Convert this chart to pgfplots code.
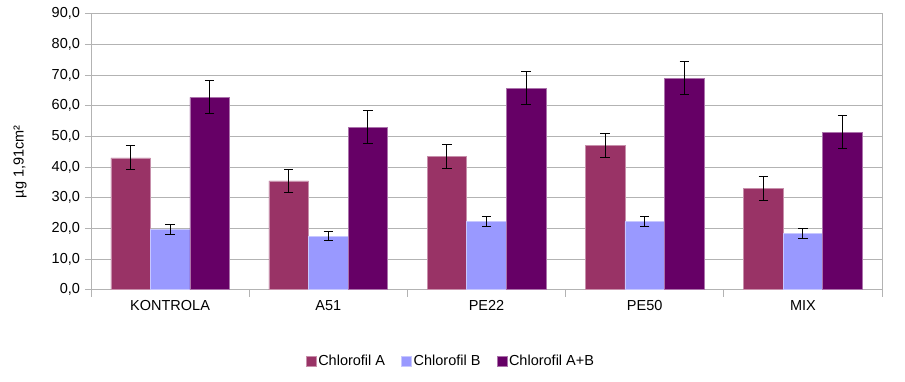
\documentclass[border=0pt]{standalone}
\usepackage{fontspec}
\setmainfont{Liberation Sans}
\usepackage{pgfplots}
\pgfplotsset{compat=1.18}
\definecolor{cA}{HTML}{993366}
\definecolor{cB}{HTML}{9999FF}
\definecolor{cAB}{HTML}{660066}
\definecolor{gridgray}{HTML}{B3B3B3}
\begin{document}
\fontsize{14.5}{17}\selectfont
\begin{tikzpicture}
\useasboundingbox (-91pt,-92.3pt) rectangle (814pt,289.7pt);
\begin{axis}[
  scale only axis, width=791pt, height=276pt,
  xmin=-0.5, xmax=4.5, ymin=0, ymax=90,
  ybar=0pt, bar width=0.25,
  xtick={0,1,2,3,4}, xticklabels={KONTROLA,A51,PE22,PE50,MIX},
  major x tick style={draw=none},
  minor xtick={-0.5,0.5,1.5,2.5,3.5,4.5},
  minor tick length=7pt,
  major tick length=6pt,
  ytick={0,10,...,90},
  ymajorgrids, grid style={gridgray, line width=0.8pt},
  axis line style={gridgray, line width=0.8pt},
  tick style={gridgray, line width=0.8pt},
  tick align=outside, tick pos=left,
  /pgf/number format/assume math mode=true,
  yticklabel style={/pgf/number format/.cd, fixed, fixed zerofill, precision=1, use comma},
  ylabel={µg 1,91cm²},
  ylabel style={at={(axis description cs:-0.0898,0.463)}, anchor=center},
  error bars/error bar style={black, line width=1pt},
  error bars/error mark options={rotate=90, black, mark size=4.7pt, line width=1pt},
  legend style={at={(axis description cs:0.455,-0.258)}, anchor=center, draw=none,
    legend columns=3, /tikz/every even column/.append style={column sep=14pt},
    /tikz/every odd column/.append style={column sep=0pt}},
  legend image code/.code={\fill[#1] (0pt,-5pt) rectangle (10pt,5pt);},
]
\addplot[fill=cA, draw=cA!55!white, line width=0.5pt,
  error bars/.cd, y dir=both, y explicit] coordinates {
  (0,43.0) +- (0,3.9)
  (1,35.5) +- (0,3.85)
  (2,43.5) +- (0,3.85)
  (3,47.0) +- (0,3.9)
  (4,33.0) +- (0,3.85)
};
\addplot[fill=cB, draw=cB!55!white, line width=0.5pt,
  error bars/.cd, y dir=both, y explicit] coordinates {
  (0,19.6) +- (0,1.6)
  (1,17.5) +- (0,1.45)
  (2,22.3) +- (0,1.55)
  (3,22.2) +- (0,1.6)
  (4,18.3) +- (0,1.55)
};
\addplot[fill=cAB, draw=cAB!55!white, line width=0.5pt,
  error bars/.cd, y dir=both, y explicit] coordinates {
  (0,62.7) +- (0,5.4)
  (1,53.0) +- (0,5.4)
  (2,65.7) +- (0,5.35)
  (3,69.0) +- (0,5.35)
  (4,51.4) +- (0,5.4)
};
\legend{Chlorofil A, Chlorofil B, Chlorofil A+B}
\end{axis}
\end{tikzpicture}
\end{document}
